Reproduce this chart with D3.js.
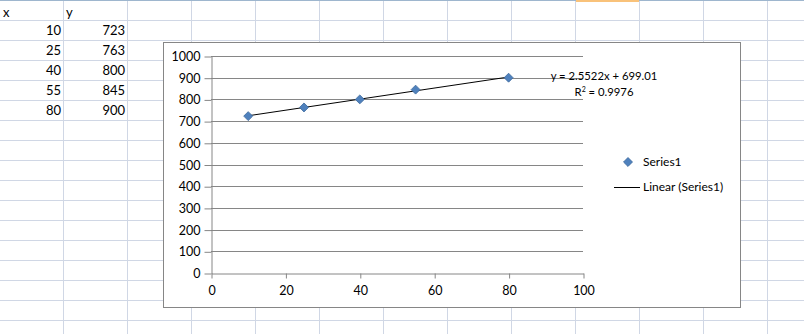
<!DOCTYPE html>
<html>
<head>
<meta charset="utf-8">
<script src="https://cdn.jsdelivr.net/npm/d3@7"></script>
<style>
  body { margin: 0; background: #fff; }
  text { font-family: Lato, "Liberation Sans", sans-serif; fill: #000; }
</style>
</head>
<body>
<script>
'use strict';

// data from the sheet
let xValues = [10, 25, 40, 55, 80];
let yValues = [723, 763, 800, 845, 900];
let xTicks = [0, 20, 40, 60, 80, 100];
let yTicks = [0, 100, 200, 300, 400, 500, 600, 700, 800, 900, 1000];
let slope = 2.5522;
let intercept = 699.01;
let rSquared = 0.9976;

let width = 804, height = 334;

let svg = d3.select('body')
  .append('svg')
  .attr('width', width)
  .attr('height', height);

// spreadsheet grid behind the chart
let grid = svg.append('g');
for (let gx = 63.5; gx < width; gx += 64) {
  grid.append('line')
    .attr('x1', gx).attr('x2', gx)
    .attr('y1', 0).attr('y2', height)
    .attr('stroke', '#d0d7e5');
}
for (let gy = 20.5; gy < height; gy += 20) {
  grid.append('line')
    .attr('x1', 0).attr('x2', width)
    .attr('y1', gy).attr('y2', gy)
    .attr('stroke', '#d0d7e5');
}
grid.append('line')
  .attr('x1', 0).attr('x2', width)
  .attr('y1', 0.5).attr('y2', 0.5)
  .attr('stroke', '#9eb6ce');
// selected column highlight
grid.append('rect')
  .attr('x', 576).attr('y', 0).attr('width', 63).attr('height', 2)
  .attr('fill', '#f9c27a');

// cell contents
grid.append('text').attr('x', 3).attr('y', 17).style('font-size', '13px').text('x');
grid.append('text').attr('x', 66).attr('y', 17).style('font-size', '13px').text('y');
xValues.forEach((v, i) => {
  grid.append('text')
    .attr('x', 61).attr('y', 35 + i * 20)
    .attr('text-anchor', 'end')
    .style('font-size', '13px')
    .text(v);
  grid.append('text')
    .attr('x', 125).attr('y', 35 + i * 20)
    .attr('text-anchor', 'end')
    .style('font-size', '13px')
    .text(yValues[i]);
});

// chart object
let chart = svg.append('g');
chart.append('rect')
  .attr('x', 163.5).attr('y', 42.5)
  .attr('width', 577).attr('height', 265)
  .attr('fill', '#fff')
  .attr('stroke', '#868686');

let xScale = d3.scaleLinear().domain([0, 100]).range([211, 583]);
let yScale = d3.scaleLinear().domain([0, 1000]).range([273, 56]);

// horizontal gridlines
chart.selectAll('.hgrid')
  .data(yTicks.slice(1))
  .enter()
  .append('line')
  .attr('x1', xScale(0)).attr('x2', xScale(100))
  .attr('y1', (d) => Math.round(yScale(d)) + 0.5)
  .attr('y2', (d) => Math.round(yScale(d)) + 0.5)
  .attr('stroke', '#868686');

// axes
let yAxis = d3.axisLeft(yScale).tickValues(yTicks).tickFormat(d3.format('d'))
  .tickSize(7).tickPadding(4).tickSizeOuter(0);
let yG = chart.append('g')
  .attr('transform', 'translate(' + (xScale(0) + 0.5) + ',0.5)')
  .call(yAxis);

let xAxis = d3.axisBottom(xScale).tickValues(xTicks).tickFormat(d3.format('d'))
  .tickSize(5).tickPadding(8).tickSizeOuter(0);
let xG = chart.append('g')
  .attr('transform', 'translate(0.5,' + (Math.round(yScale(0)) + 0.5) + ')')
  .call(xAxis);

[yG, xG].forEach((g) => {
  g.select('.domain').attr('stroke', '#868686');
  g.selectAll('.tick line').attr('stroke', '#868686');
  g.selectAll('.tick text')
    .style('font-family', 'Lato, "Liberation Sans", sans-serif')
    .style('font-size', '12.5px')
    .attr('fill', '#000');
});

// linear trendline
let trend = d3.line()
  .x((d) => xScale(d))
  .y((d) => yScale(slope * d + intercept));
chart.append('path')
  .datum([d3.min(xValues), d3.max(xValues)])
  .attr('fill', 'none')
  .attr('stroke', '#000')
  .attr('stroke-width', 1)
  .attr('d', trend);

// diamond markers
let diamond = d3.symbol().type(d3.symbolSquare).size(40);
chart.selectAll('.dot')
  .data(xValues)
  .enter()
  .append('path')
  .attr('d', diamond)
  .attr('transform', (d, i) => 'translate(' + xScale(d) + ',' + yScale(yValues[i]) + ') rotate(45)')
  .attr('fill', '#4f81bd')
  .attr('stroke', '#3d6a9e')
  .attr('stroke-width', 0.8);

// trendline label (centred block)
chart.append('text')
  .attr('x', 604).attr('y', 80)
  .attr('text-anchor', 'middle')
  .style('font-size', '11.3px')
  .text('y = ' + slope + 'x + ' + intercept.toFixed(2));
let r2 = chart.append('text')
  .attr('x', 604).attr('y', 96)
  .attr('text-anchor', 'middle')
  .style('font-size', '11.3px');
r2.append('tspan').text('R');
r2.append('tspan').attr('dy', -4).style('font-size', '7px').text('2');
r2.append('tspan').attr('dy', 4).text(' = ' + rSquared);

// legend
chart.append('path')
  .attr('d', diamond)
  .attr('transform', 'translate(628,162) rotate(45)')
  .attr('fill', '#4f81bd')
  .attr('stroke', '#3d6a9e')
  .attr('stroke-width', 0.8);
chart.append('text')
  .attr('x', 643).attr('y', 166)
  .style('font-size', '12px')
  .text('Series1');
chart.append('line')
  .attr('x1', 614).attr('x2', 640)
  .attr('y1', 187.5).attr('y2', 187.5)
  .attr('stroke', '#000');
chart.append('text')
  .attr('x', 643).attr('y', 191)
  .style('font-size', '12px')
  .text('Linear (Series1)');
</script>
</body>
</html>
